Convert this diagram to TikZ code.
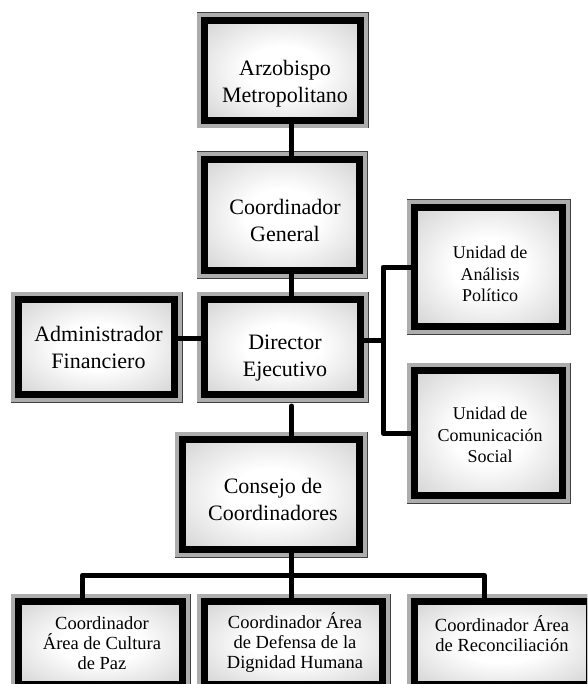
\documentclass[tikz,border=0pt]{standalone}
\usepackage{fontspec}
\setmainfont{Liberation Serif}
\definecolor{banda}{gray}{0.68}
\definecolor{borde}{gray}{0.25}
\pgfdeclareradialshading{brillo}{\pgfpoint{0bp}{0bp}}{color(0bp)=(white); color(12bp)=(white); color(50bp)=(black!28); color(75bp)=(black!36)}
\begin{document}
\begin{tikzpicture}[x=1pt, y=-1pt,
    caja/.style={rectangle, draw=black, line width=7pt, shading=brillo, inner sep=0pt,
      preaction={draw=borde, line width=16pt},
      preaction={draw=banda, line width=14.4pt}},
    texto/.style={align=center, font=\fontsize{22}{27}\selectfont},
    unidad/.style={align=center, font=\fontsize{18}{21.5}\selectfont},
    area/.style={align=center, font=\fontsize{18.5}{20}\selectfont},
    linea/.style={line width=5pt, line cap=round, line join=round}]
      \useasboundingbox (0,0) rectangle (587,684);
      \clip (0,0) rectangle (587,684);
      \draw
        (282.5,70.5) node[caja, minimum width=156pt, minimum height=100pt] (arz){}
        (282,215) node[caja, minimum width=155pt, minimum height=111pt] (coord){}
        (282.5,347) node[caja, minimum width=156pt, minimum height=95pt] (dir){}
        (96.5,347) node[caja, minimum width=156pt, minimum height=95pt] (adm){}
        (488.5,267) node[caja, minimum width=148pt, minimum height=119pt] (ua){}
        (488.5,433) node[caja, minimum width=148pt, minimum height=125pt] (uc){}
        (271,494.5) node[caja, minimum width=177pt, minimum height=110pt] (consejo){}
        (100.5,643) node[caja, minimum width=164pt, minimum height=83pt] (b1){}
        (293.5,643) node[caja, minimum width=178pt, minimum height=83pt] (b2){}
        (502,643) node[caja, minimum width=175pt, minimum height=83pt] (b3){};
      \draw
        (285,83.5) node[texto] (arzt){Arzobispo\\Metropolitano}
        (285,220) node[texto] (coordt){Coordinador\\General}
        (285,358.5) node[texto] (dirt){Director\\Ejecutivo}
        (98.5,347.5) node[texto] (admt){Administrador\\Financiero}
        (490,274) node[unidad] (uat){Unidad de\\Análisis\\Político}
        (490,435) node[unidad] (uct){Unidad de\\Comunicación\\Social}
        (273,499) node[texto] (consejot){Consejo de\\Coordinadores}
        (102,643) node[area] (b1t){Coordinador\\Área de Cultura\\de Paz}
        (295,643) node[area] (b2t){Coordinador Área\\de Defensa de la\\Dignidad Humana}
        (502,633.5) node[area] (b3t){Coordinador Área\\de Reconciliación};
      \coordinate (eje) at (291.5,0);
      \coordinate (rama) at (383,0);
      \coordinate (barra) at (0,575);
      \begin{scope}[linea]
        \draw (arz.south -| eje) -- (coord.north -| eje);
        \draw (coord.south -| eje) -- (dir.north -| eje);
        \draw ([yshift=9pt]adm.east) -- ([yshift=9pt]dir.west);
        \draw ([yshift=7pt]dir.east) -- ([yshift=7pt]dir.east -| rama);
        \draw (ua.west) -- (ua.west -| rama) -- (uc.west -| rama) -- (uc.west);
        \draw[shorten <=8pt] (dir.south -| eje) -- (consejo.north -| eje);
        \draw (consejo.south -| eje) -- (barra -| eje);
        \draw ([xshift=-18pt]b1.north) -- ([xshift=-18pt]b1.north |- barra)
          -- ([xshift=-18pt]b3.north |- barra) -- ([xshift=-18pt]b3.north);
        \draw (barra -| eje) -- (b2.north -| eje);
      \end{scope}
    \end{tikzpicture}
\end{document}
